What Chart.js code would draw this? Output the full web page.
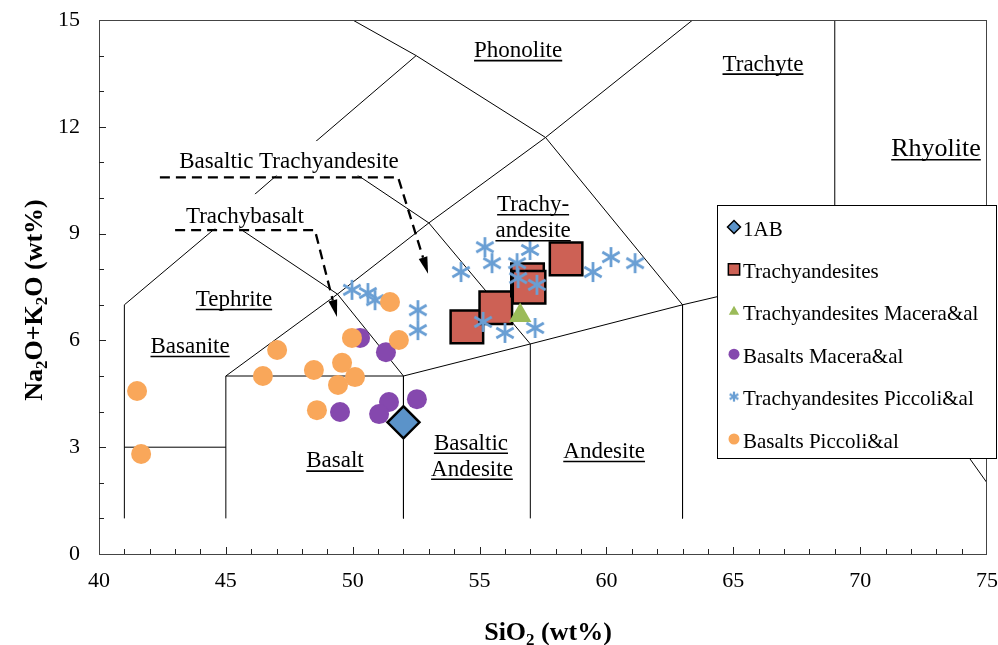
<!DOCTYPE html>
<html>
<head>
<meta charset="utf-8">
<script src="https://cdn.jsdelivr.net/npm/chart.js@4.4.1/dist/chart.umd.min.js"></script>
<style>body{margin:0;background:#fff}</style>
</head>
<body>
<canvas id="grafico" width="998" height="645"></canvas>
<script>
// eixos
const ticksX = [40, 45, 50, 55, 60, 65, 70, 75];
const ticksY = [0, 3, 6, 9, 12, 15];

// amostras [SiO2, Na2O+K2O]
const amostra1AB = [[52.0, 3.7]];
const trachyandesites = [[54.5, 6.38], [55.64, 6.92], [56.89, 7.7], [56.95, 7.49], [58.41, 8.29]];
const trachyMacera = [[56.6, 6.7]];
const basaltsMacera = [[50.29, 6.07], [51.31, 5.67], [51.43, 4.27], [52.53, 4.35], [49.5, 3.99], [51.04, 3.93]];
const trachyPiccoli = [[49.97, 7.42], [50.6, 7.33], [50.88, 7.13], [52.57, 6.85], [52.57, 6.29],
  [54.27, 7.92], [55.21, 8.62], [55.49, 8.17], [56.48, 8.17], [56.99, 8.54], [56.52, 7.75],
  [57.26, 7.56], [55.14, 6.52], [56.0, 6.21], [57.19, 6.35], [59.47, 7.92], [60.18, 8.34], [61.13, 8.17]];
const basaltsPiccoli = [[41.5, 4.58], [41.66, 2.81], [46.46, 5.0], [47.02, 5.73], [48.47, 5.17],
  [48.59, 4.04], [51.47, 7.08], [49.97, 6.07], [51.82, 6.01], [49.58, 5.37], [50.09, 4.97], [49.42, 4.75]];

// limites do diagrama TAS
const limites = [
  [[41, 1], [41, 7], [45, 9.4], [48.4, 11.5], [52.5, 14]],
  [[50, 15], [52.5, 14], [57.6, 11.7], [63, 7], [63, 1]],
  [[41, 3], [45, 3]],
  [[45, 1], [45, 5], [52, 5], [52, 1]],
  [[52, 5], [57, 5.9], [63, 7], [69, 8], [75, 2]],
  [[57, 1], [57, 5.9], [53, 9.3], [48.4, 11.5]],
  [[45, 9.4], [49.4, 7.3], [52, 5]],
  [[45, 5], [49.4, 7.3], [53, 9.3], [57.6, 11.7], [63.4, 15]],
  [[69, 8], [69, 15]]
];

const pts = arr => arr.map(p => ({x: p[0], y: p[1]}));

function asterisco(tam, esp) {
  const c = document.createElement('canvas');
  c.width = tam; c.height = tam;
  const g = c.getContext('2d');
  g.strokeStyle = '#6A9FD4';
  g.lineWidth = esp;
  const m = tam / 2, r = tam / 2 - 1;
  for (let k = 0; k < 3; k++) {
    const a = Math.PI / 2 + k * Math.PI / 3;
    g.beginPath();
    g.moveTo(m + r * Math.cos(a), m + r * Math.sin(a));
    g.lineTo(m - r * Math.cos(a), m - r * Math.sin(a));
    g.stroke();
  }
  return c;
}

const series = [
  {label: '1AB', data: pts(amostra1AB), pointStyle: 'rectRot', pointRadius: 16,
    pointBackgroundColor: '#5B93C9', pointBorderColor: '#000', pointBorderWidth: 2.5, order: 0,
    leg: {pointStyle: 'rectRot', radius: 6.5, fill: '#5B93C9', borderWidth: 1.5}},
  {label: 'Trachyandesites', data: pts(trachyandesites), pointStyle: 'rect', pointRadius: 23,
    pointBackgroundColor: '#CD6155', pointBorderColor: '#000', pointBorderWidth: 2.5, order: 5,
    leg: {pointStyle: 'rect', radius: 8, fill: '#CD6155', borderWidth: 1.5}},
  {label: 'Trachyandesites Macera&al', data: pts(trachyMacera), pointStyle: 'triangle', pointRadius: 13,
    pointBackgroundColor: '#9BBB59', pointBorderWidth: 0, order: 4,
    leg: {pointStyle: 'triangle', radius: 6, fill: '#9BBB59', borderWidth: 0}},
  {label: 'Basalts Macera&al', data: pts(basaltsMacera), pointStyle: 'circle', pointRadius: 10,
    pointBackgroundColor: '#8548AE', pointBorderWidth: 0, order: 3,
    leg: {pointStyle: 'circle', radius: 5.5, fill: '#8548AE', borderWidth: 0}},
  {label: 'Trachyandesites Piccoli&al', data: pts(trachyPiccoli), pointStyle: asterisco(22, 2.8), pointRadius: 11,
    order: 2,
    leg: {pointStyle: asterisco(12, 2.2), radius: 6, fill: '#6A9FD4', borderWidth: 0}},
  {label: 'Basalts Piccoli&al', data: pts(basaltsPiccoli), pointStyle: 'circle', pointRadius: 10,
    pointBackgroundColor: '#F9A75A', pointBorderWidth: 0, order: 1,
    leg: {pointStyle: 'circle', radius: 5.5, fill: '#F9A75A', borderWidth: 0}}
];

const linhas = limites.map(l => ({data: pts(l), showLine: true, pointRadius: 0, borderColor: '#000',
  borderWidth: 1, order: 10, leg: null}));

// textos dos campos: texto, SiO2, alcalis, tamanho, sublinhado
const rotulos = [
  ['Phonolite', 56.52, 14.13, 23, true],
  ['Trachyte', 66.17, 13.75, 23, true],
  ['Rhyolite', 72.99, 11.38, 26, true],
  ['Trachy-', 57.11, 9.8, 23, true],
  ['andesite', 57.11, 9.07, 23, true],
  ['Tephrite', 45.32, 7.14, 23, true],
  ['Basanite', 43.59, 5.82, 23, true],
  ['Basalt', 49.3, 2.6, 23, true],
  ['Basaltic', 54.66, 3.1, 23, true],
  ['Andesite', 54.7, 2.37, 23, true],
  ['Andesite', 59.91, 2.87, 23, true],
  ['Basaltic Trachyandesite', 47.49, 11.02, 23, false],
  ['Trachybasalt', 45.75, 9.47, 23, false]
];
// caixas brancas dos rotulos [x0, x1, y0, y1]
const caixas = [[42.6, 52.2, 10.63, 11.6], [43.2, 48.39, 9.14, 10.11]];
// setas tracejadas
const setas = [
  [[42.4, 10.58], [51.79, 10.58], [52.97, 7.87]],
  [[43.0, 9.1], [48.51, 9.1], [49.38, 6.66]]
];

const SERIF = '"Liberation Serif", "Times New Roman", serif';

const desenho = {
  id: 'desenho',
  afterDatasetsDraw(chart) {
    const ctx = chart.ctx, sx = chart.scales.x, sy = chart.scales.y, a = chart.chartArea;
    const px = v => sx.getPixelForValue(v), py = v => sy.getPixelForValue(v);
    ctx.save();

    ctx.fillStyle = '#fff';
    caixas.forEach(c => ctx.fillRect(px(c[0]), py(c[3]), px(c[1]) - px(c[0]), py(c[2]) - py(c[3])));

    ctx.fillStyle = '#000';
    ctx.strokeStyle = '#000';
    ctx.textAlign = 'center';
    ctx.textBaseline = 'middle';
    rotulos.forEach(r => {
      ctx.font = r[3] + 'px ' + SERIF;
      const x = px(r[1]), y = py(r[2]);
      ctx.fillText(r[0], x, y);
      if (r[4]) {
        const w = ctx.measureText(r[0]).width;
        ctx.lineWidth = 1.6;
        ctx.beginPath();
        ctx.moveTo(x - w / 2, y + r[3] * 0.42);
        ctx.lineTo(x + w / 2, y + r[3] * 0.42);
        ctx.stroke();
      }
    });

    // setas
    setas.forEach(s => {
      const p = s.map(q => [px(q[0]), py(q[1])]);
      const n = p.length;
      const dx = p[n - 1][0] - p[n - 2][0], dy = p[n - 1][1] - p[n - 2][1];
      const L = Math.hypot(dx, dy), ux = dx / L, uy = dy / L;
      const comp = 17, larg = 4.5;
      const bx = p[n - 1][0] - ux * comp, by = p[n - 1][1] - uy * comp;
      ctx.setLineDash([10, 6]);
      ctx.lineWidth = 2.3;
      ctx.beginPath();
      ctx.moveTo(p[0][0], p[0][1]);
      for (let i = 1; i < n - 1; i++) ctx.lineTo(p[i][0], p[i][1]);
      ctx.lineTo(bx, by);
      ctx.stroke();
      ctx.setLineDash([]);
      ctx.beginPath();
      ctx.moveTo(p[n - 1][0], p[n - 1][1]);
      ctx.lineTo(bx - uy * larg, by + ux * larg);
      ctx.lineTo(bx + uy * larg, by - ux * larg);
      ctx.closePath();
      ctx.fill();
    });

    // moldura e marcas
    ctx.lineWidth = 1;
    ctx.strokeStyle = '#444';
    ctx.strokeRect(a.left + 0.5, a.top + 0.5, a.right - a.left - 1, a.bottom - a.top);
    ctx.strokeStyle = '#222';
    ctx.beginPath();
    for (let v = 41; v < 75; v++) {
      const x = Math.round(px(v)) + 0.5;
      ctx.moveTo(x, a.bottom);
      ctx.lineTo(x, a.bottom - (v % 5 === 0 ? 7 : 5));
    }
    for (let v = 1; v < 15; v++) {
      const y = Math.round(py(v)) + 0.5;
      ctx.moveTo(a.left, y);
      ctx.lineTo(a.left + (v % 3 === 0 ? 7 : 5), y);
    }
    ctx.stroke();

    // legenda
    const lx = 717.5, ly = 205.5, lw = 279, lh = 253;
    ctx.fillStyle = '#fff';
    ctx.fillRect(lx, ly, lw, lh);
    ctx.strokeStyle = '#000';
    ctx.strokeRect(lx, ly, lw, lh);
    ctx.textAlign = 'left';
    ctx.font = '21px ' + SERIF;
    series.forEach((s, i) => {
      const y = 230 + i * 42.4;
      const m = s.leg;
      ctx.fillStyle = m.fill;
      ctx.strokeStyle = '#000';
      ctx.lineWidth = m.borderWidth;
      Chart.helpers.drawPoint(ctx, {pointStyle: m.pointStyle, radius: m.radius, rotation: 0,
        borderWidth: m.borderWidth}, 734, y - 3);
      ctx.fillStyle = '#000';
      ctx.fillText(s.label, 743, y);
    });

    // titulos dos eixos
    ctx.fillStyle = '#000';
    const partes = (ctx0, itens, x0, y0, centro) => {
      let w = 0;
      itens.forEach(t => { ctx0.font = 'bold ' + t[1] + 'px ' + SERIF; w += ctx0.measureText(t[0]).width; });
      let x = centro ? x0 - w / 2 : x0;
      itens.forEach(t => {
        ctx0.font = 'bold ' + t[1] + 'px ' + SERIF;
        ctx0.fillText(t[0], x, y0 + t[2]);
        x += ctx0.measureText(t[0]).width;
      });
    };
    ctx.textBaseline = 'alphabetic';
    partes(ctx, [['SiO', 26, 0], ['2', 17, 5], [' (wt%)', 26, 0]], 548, 640, true);
    ctx.save();
    ctx.translate(42, 300);
    ctx.rotate(-Math.PI / 2);
    partes(ctx, [['Na', 26, 0], ['2', 17, 5], ['O+K', 26, 0], ['2', 17, 5], ['O (wt%)', 26, 0]], 0, 0, true);
    ctx.restore();

    ctx.restore();
  }
};

new Chart(document.getElementById('grafico'), {
  type: 'scatter',
  data: {datasets: series.concat(linhas)},
  options: {
    responsive: false,
    animation: false,
    devicePixelRatio: 1,
    layout: {autoPadding: false, padding: {left: 0, top: 20, right: 11, bottom: 0}},
    plugins: {legend: {display: false}, tooltip: {enabled: false}},
    scales: {
      x: {
        type: 'linear', min: 40, max: 75,
        grid: {display: false, drawTicks: false},
        border: {display: false},
        afterBuildTicks: s => { s.ticks = ticksX.map(v => ({value: v})); },
        ticks: {padding: 14, color: '#000', font: {family: SERIF, size: 22}, autoSkip: false, maxRotation: 0},
        afterFit: s => { s.height = 91; s.paddingLeft = 0; s.paddingRight = 0; }
      },
      y: {
        type: 'linear', min: 0, max: 15,
        grid: {display: false, drawTicks: false},
        border: {display: false},
        afterBuildTicks: s => { s.ticks = ticksY.map(v => ({value: v})); },
        ticks: {padding: 19, color: '#000', font: {family: SERIF, size: 22}, autoSkip: false},
        afterFit: s => { s.width = 99; s.paddingTop = 0; s.paddingBottom = 0; }
      }
    }
  },
  plugins: [desenho]
});
</script>
</body>
</html>
